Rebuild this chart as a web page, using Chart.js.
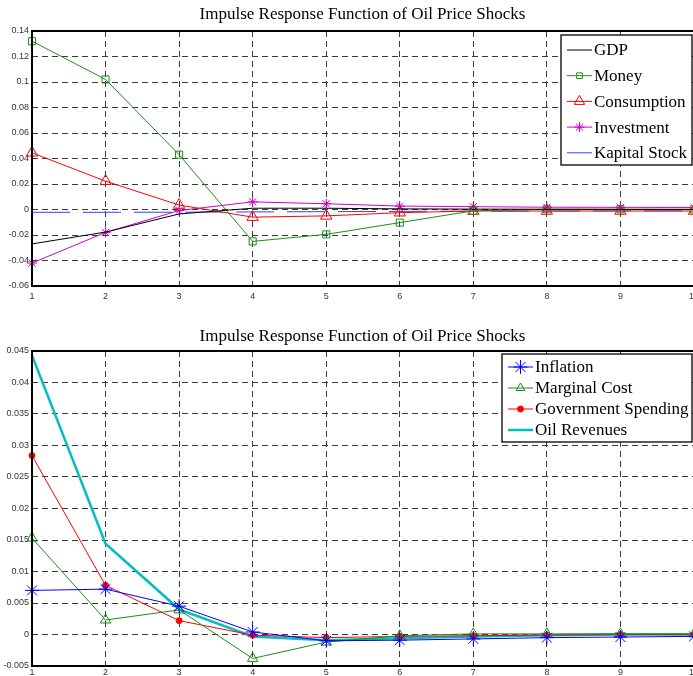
<!DOCTYPE html>
<html>
<head>
<meta charset="utf-8">
<script src="https://cdn.jsdelivr.net/npm/chart.js@4.4.0/dist/chart.umd.min.js"></script>
<style>
    body { margin: 0; background: #fff; overflow: hidden; width: 693px; height: 676px; }
    .box { position: absolute; left: 0; width: 710px; }
</style>
</head>
<body>
<div class="box" style="top:0;height:320px"><canvas id="top" width="710" height="320"></canvas></div>
<div class="box" style="top:320px;height:356px"><canvas id="bottom" width="710" height="356"></canvas></div>
<script>
"use strict";
// periods
const steps = ["1", "2", "3", "4", "5", "6", "7", "8", "9", "10"];

// top panel
const gdp = [-0.027, -0.0177, -0.0035, 0.001, 0.001, 0.0005, 0.0003, 0.0002, 0.0001, 0.0001];
const money = [0.132, 0.102, 0.043, -0.025, -0.0195, -0.0103, -0.001, 0.0002, 0.0002, 0.0001];
const consumption = [0.0445, 0.0222, 0.0035, -0.006, -0.005, -0.0025, -0.0012, -0.0012, -0.0012, -0.0012];
const investment = [-0.042, -0.018, -0.0008, 0.006, 0.0045, 0.0027, 0.0022, 0.0018, 0.0017, 0.0016];
const kapital = [-0.0022, -0.0022, -0.0021, -0.0019, -0.0017, -0.0015, -0.0013, -0.0012, -0.0011, -0.001];
const topTicks = [-0.06, -0.04, -0.02, 0, 0.02, 0.04, 0.06, 0.08, 0.1, 0.12, 0.14];
const topTickLabels = ["-0.06", "-0.04", "-0.02", "0", "0.02", "0.04", "0.06", "0.08", "0.1", "0.12", "0.14"];

// bottom panel
const inflation = [0.007, 0.0072, 0.0045, 0.0004, -0.001, -0.0009, -0.0007, -0.0005, -0.0004, -0.0003];
const marginalCost = [0.0153, 0.0023, 0.0039, -0.0038, -0.0012, -0.0002, 0.0001, 0.0001, 0.0001, 0.0001];
const govSpending = [0.0284, 0.0078, 0.0022, -0.0001, -0.0005, -0.0003, -0.0002, -0.0001, 0, 0];
const oilRevenues = [0.0443, 0.0144, 0.004, -0.0003, -0.0009, -0.0006, -0.0003, -0.0001, 0, 0];
const bottomTicks = [-0.005, 0, 0.005, 0.01, 0.015, 0.02, 0.025, 0.03, 0.035, 0.04, 0.045];
const bottomTickLabels = ["-0.005", "0", "0.005", "0.01", "0.015", "0.02", "0.025", "0.03", "0.035", "0.04", "0.045"];

const titleText = "Impulse Response Function of Oil Price Shocks";
const serif = "'Liberation Serif', 'Times New Roman', serif";
const tickFont = { family: "'Liberation Sans Narrow', 'Liberation Sans', Arial, sans-serif", size: 9 };

// titolo, cornice e legenda disegnati a mano
const matlabLook = {
    id: "matlabLook",
    afterDatasetsDraw(chart) {
        const a = chart.chartArea;
        const ctx = chart.ctx;
        ctx.save();
        ctx.strokeStyle = "#000";
        ctx.lineWidth = 2;
        ctx.setLineDash([]);
        ctx.strokeRect(a.left, a.top, a.right - a.left, a.bottom - a.top);
        ctx.restore();
    },
    afterDraw(chart, args, opts) {
        const ctx = chart.ctx;
        const a = chart.chartArea;
        ctx.save();
        ctx.fillStyle = "#000";
        ctx.font = "17px " + serif;
        ctx.textAlign = "center";
        ctx.textBaseline = "middle";
        ctx.fillText(titleText, (a.left + 693) / 2, opts.titleY);

        // legenda
        const L = opts.legend;
        ctx.fillStyle = "#fff";
        ctx.fillRect(L.x, L.y, L.w, L.h);
        ctx.strokeStyle = "#000";
        ctx.lineWidth = 1.3;
        ctx.strokeRect(L.x, L.y, L.w, L.h);
        ctx.font = "17px " + serif;
        ctx.textAlign = "left";
        chart.data.datasets.forEach(function(ds, i) {
            let y = L.y + L.first + i * L.gap;
            ctx.setLineDash([]);
            ctx.strokeStyle = ds.borderColor;
            ctx.lineWidth = ds.borderWidth;
            ctx.beginPath();
            ctx.moveTo(L.x + 6, y);
            ctx.lineTo(L.x + 31, y);
            ctx.stroke();
            if (ds.pointRadius > 0) {
                ctx.lineWidth = 1;
                ctx.fillStyle = ds.pointBackgroundColor;
                Chart.helpers.drawPoint(ctx, {
                    pointStyle: ds.pointStyle,
                    radius: ds.legendRadius,
                    borderWidth: 1,
                    rotation: 0
                }, L.x + 18.5, y);
            }
            ctx.fillStyle = "#000";
            ctx.fillText(ds.label, L.x + 33, y + 1);
        });
        ctx.restore();
    }
};

function serie(label, data, color, style, radius, extra) {
    return Object.assign({
        label: label,
        data: data,
        borderColor: color,
        borderWidth: 1,
        pointStyle: style,
        pointRadius: radius,
        legendRadius: radius * 0.8,
        pointBorderColor: color,
        pointBackgroundColor: "rgba(0,0,0,0)",
        pointBorderWidth: 1,
        tension: 0,
        clip: false
    }, extra || {});
}

function options(ticks, tickLabels, xHeight, xPad, titleY, legend) {
    return {
        responsive: false,
        animation: false,
        devicePixelRatio: 1,
        layout: { padding: { top: 31, right: 16, left: 0, bottom: 0 } },
        plugins: {
            legend: { display: false },
            title: { display: false },
            tooltip: { enabled: false },
            matlabLook: { titleY: titleY, legend: legend }
        },
        scales: {
            x: {
                type: "category",
                offset: false,
                grid: { color: "#3a3a3a", lineWidth: 1, drawTicks: false },
                border: { display: false, dash: [6, 4] },
                ticks: { color: "#333", font: tickFont, padding: xPad, autoSkip: false, maxRotation: 0 },
                afterFit: function(s) { s.height = xHeight; }
            },
            y: {
                min: ticks[0],
                max: ticks[ticks.length - 1],
                grid: { color: "#3a3a3a", lineWidth: 1, drawTicks: false },
                border: { display: false, dash: [6, 4] },
                ticks: {
                    color: "#333",
                    font: tickFont,
                    padding: 3,
                    callback: function(v, i) { return tickLabels[i]; }
                },
                afterBuildTicks: function(s) { s.ticks = ticks.map(v => ({ value: v })); },
                afterFit: function(s) { s.width = 32; }
            }
        }
    };
}

let chartTop = new Chart(document.getElementById("top"), {
    type: "line",
    data: {
        labels: steps,
        datasets: [
            serie("GDP", gdp, "#000000", "circle", 0),
            serie("Money", money, "#1a8f1a", "rect", 5, { legendRadius: 4 }),
            serie("Consumption", consumption, "#ff0000", "triangle", 6.5, { legendRadius: 6 }),
            serie("Investment", investment, "#cc00cc", "star", 5, { legendRadius: 5 }),
            serie("Kapital Stock", kapital, "#3344ff", "circle", 0, { borderDash: [38, 13] })
        ]
    },
    options: options(topTicks, topTickLabels, 34, 5, 15,
        { x: 561, y: 35, w: 131, h: 130, first: 15, gap: 25.7 }),
    plugins: [matlabLook]
});

let chartBottom = new Chart(document.getElementById("bottom"), {
    type: "line",
    data: {
        labels: steps,
        datasets: [
            serie("Inflation", inflation, "#0000ff", "star", 7, { legendRadius: 7 }),
            serie("Marginal Cost", marginalCost, "#1a8f1a", "triangle", 6, { legendRadius: 5 }),
            serie("Government Spending", govSpending, "#ff0000", "circle", 3,
                { pointBackgroundColor: "#ff0000", legendRadius: 3 }),
            serie("Oil Revenues", oilRevenues, "#00bfbf", "circle", 0, { borderWidth: 2.5 })
        ]
    },
    options: options(bottomTicks, bottomTickLabels, 10, 1, 17,
        { x: 502, y: 34, w: 190, h: 88, first: 13, gap: 21 }),
    plugins: [matlabLook]
});
</script>
</body>
</html>
